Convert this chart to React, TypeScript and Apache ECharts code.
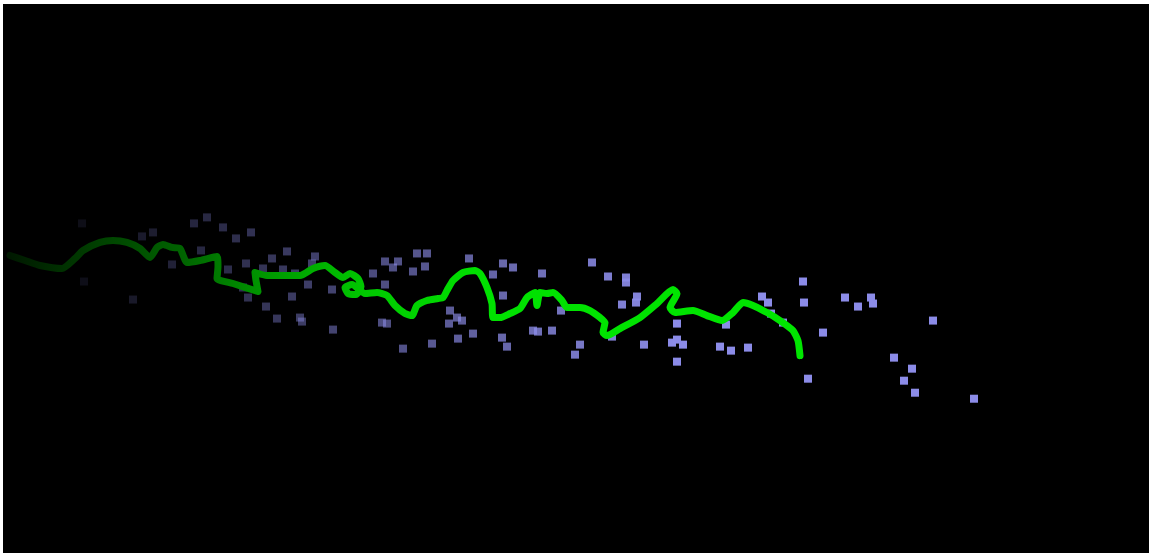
import React, { useEffect, useRef } from "react";
import * as echarts from "echarts";

// Scatter cloud (horizontal position, vertical position)
const pointX = [974, 933, 915, 912, 904, 894, 871, 873, 858, 845, 823, 808, 804, 803, 783, 771, 768, 762, 748, 731, 720, 726, 683, 677, 672, 677, 677, 644, 637, 636, 626, 626, 622, 608, 592, 612, 580, 575, 561, 552, 538, 533, 542, 513, 503, 493, 503, 507, 502, 473, 458, 462, 457, 450, 449, 469, 432, 403, 425, 427, 417, 413, 398, 393, 385, 373, 385, 382, 387, 333, 332, 315, 312, 287, 295, 308, 292, 300, 302, 266, 277, 248, 243, 263, 272, 283, 246, 228, 251, 236, 223, 207, 194, 201, 172, 153, 142, 133, 84, 82];
const pointY = [398, 320, 392, 368, 380, 357, 297, 303, 306, 297, 332, 378, 302, 281, 322, 313, 302, 296, 347, 350, 346, 324, 344, 339, 342, 361, 323, 344, 296, 302, 277, 282, 304, 276, 262, 336, 344, 354, 310, 330, 331, 330, 273, 267, 263, 274, 295, 346, 337, 333, 338, 320, 317, 310, 323, 258, 343, 348, 266, 253, 253, 271, 261, 267, 261, 273, 284, 322, 323, 329, 289, 256, 263, 251, 273, 284, 296, 317, 321, 306, 318, 297, 287, 268, 258, 269, 263, 269, 232, 238, 227, 217, 223, 250, 264, 232, 236, 299, 281, 223];

// Green trajectory
const lineX = [10, 25, 40, 62, 75, 83, 100, 113, 127, 140, 150, 157, 163, 172, 180, 187, 200, 217, 218, 217, 233, 258, 256, 255, 267, 280, 300, 313, 325, 335, 343, 350, 358, 361, 356, 348, 345, 352, 365, 377, 387, 395, 405, 412, 417, 427, 438, 443, 447, 453, 463, 475, 480, 487, 492, 493, 500, 510, 520, 527, 535, 537, 540, 547, 553, 562, 567, 580, 590, 600, 605, 603, 607, 620, 640, 657, 673, 677, 670, 675, 693, 707, 722, 733, 743, 753, 767, 780, 793, 798, 800];
const lineY = [255, 260, 265, 268, 258, 250, 242, 240, 242, 248, 257, 247, 244, 247, 248, 262, 260, 256, 266, 278, 283, 291, 280, 272, 275, 275, 275, 268, 265, 272, 277, 273, 278, 286, 294, 293, 287, 284, 293, 292, 295, 305, 313, 315, 305, 300, 298, 297, 290, 280, 272, 270, 273, 287, 303, 317, 317, 313, 308, 297, 292, 305, 292, 293, 292, 300, 307, 307, 310, 317, 322, 332, 335, 328, 317, 303, 289, 293, 307, 312, 310, 315, 320, 312, 302, 305, 312, 320, 330, 340, 355];

export default function App() {
  const ref = useRef<HTMLDivElement>(null);
  useEffect(() => {
    document.body.style.margin = "0";
    const chart = echarts.init(ref.current!, null, { renderer: "svg" });
    chart.setOption({
      animation: false,
      backgroundColor: "#000",
      grid: { left: 0, right: 0, top: 0, bottom: 0 },
      xAxis: { type: "value", min: 3, max: 1149, show: false },
      yAxis: { type: "value", min: 4, max: 552, inverse: true, show: false },
      visualMap: {
        show: false,
        type: "continuous",
        seriesIndex: 0,
        dimension: 0,
        min: 70,
        max: 680,
        inRange: { opacity: [0.08, 1] },
      },
      series: [
        {
          type: "scatter",
          symbol: "rect",
          symbolSize: 8,
          itemStyle: { color: "#8c8ce8" },
          data: pointX.map((x, i) => [x, pointY[i]]),
          z: 1,
        },
        {
          type: "line",
          smooth: 0.2,
          symbol: "none",
          lineStyle: {
            width: 7,
            color: new echarts.graphic.LinearGradient(0, 0, 1, 0, [
              { offset: 0, color: "rgba(0,25,0,1)" },
              { offset: 0.1, color: "rgba(0,60,0,1)" },
              { offset: 0.22, color: "rgba(0,100,0,1)" },
              { offset: 0.32, color: "rgba(0,150,0,1)" },
              { offset: 0.45, color: "rgba(0,200,0,1)" },
              { offset: 0.6, color: "rgba(0,225,0,1)" },
              { offset: 1, color: "rgba(0,230,0,1)" },
            ]),
            join: "round",
            cap: "round",
          },
          data: lineX.map((x, i) => [x, lineY[i]]),
          z: 2,
        },
      ],
    });
    return () => chart.dispose();
  }, []);
  return (
    <div
      ref={ref}
      style={{ width: 1146, height: 549, marginLeft: 3, marginTop: 4 }}
    />
  );
}
